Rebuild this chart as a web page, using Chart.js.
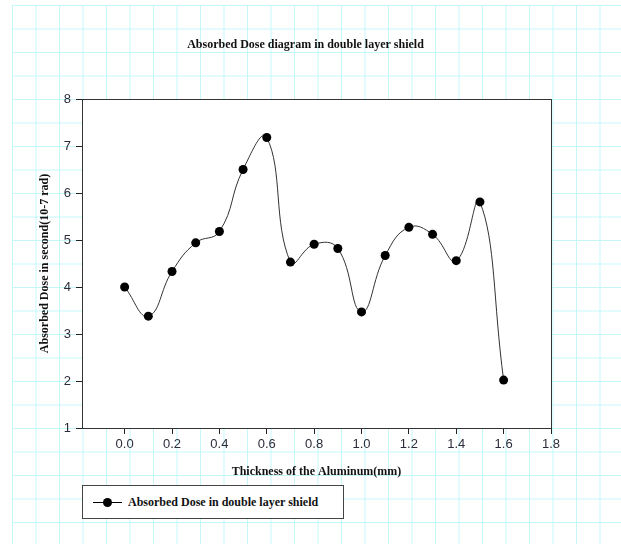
<!DOCTYPE html>
<html>
<head>
<meta charset="utf-8">
<script src="https://cdn.jsdelivr.net/npm/chart.js@4/dist/chart.umd.min.js"></script>
<style>
  html, body { margin: 0; padding: 0; background: #fff; }
  #wrap { position: relative; width: 621px; height: 544px; overflow: hidden; background: #fff; }
  #grid {
    position: absolute; left: 12px; top: 5px; right: 0; bottom: 0;
    background-image:
      linear-gradient(to right, #c4f6f8 1px, transparent 1px),
      linear-gradient(to bottom, #c4f6f8 1px, transparent 1px);
    background-size: 23.5px 23.5px;
    background-position: 0 0;
  }
  canvas { position: absolute; left: 0; top: 0; }
  #legend {
    position: absolute; left: 82px; top: 485px; width: 262px; height: 34px;
    background: #fff; border: 1px solid #444; box-sizing: border-box;
    font: bold 12px "Liberation Serif", serif; color: #111;
  }
  #legend .ln { position: absolute; left: 10px; top: 16px; width: 29px; height: 1px; background: #000; }
  #legend .dt { position: absolute; left: 20px; top: 12px; width: 9px; height: 9px; border-radius: 50%; background: #000; }
  #legend .tx { position: absolute; left: 45px; top: 9px; white-space: nowrap; }
</style>
</head>
<body>
<div id="wrap">
  <div id="grid"></div>
  <canvas id="c" width="621" height="544"></canvas>
  <div id="legend"><div class="ln"></div><div class="dt"></div><div class="tx">Absorbed Dose in double layer shield</div></div>
</div>
<script>
const thickness = [0.0, 0.1, 0.2, 0.3, 0.4, 0.5, 0.6, 0.7, 0.8, 0.9, 1.0, 1.1, 1.2, 1.3, 1.4, 1.5, 1.6];
const doseValues = [4.00, 3.38, 4.33, 4.94, 5.18, 6.50, 7.18, 4.53, 4.91, 4.82, 3.47, 4.67, 5.27, 5.12, 4.56, 5.81, 2.02];
const xTickValues = [0.0, 0.2, 0.4, 0.6, 0.8, 1.0, 1.2, 1.4, 1.6, 1.8];
const yTickValues = [1, 2, 3, 4, 5, 6, 7, 8];
const chartTitle = 'Absorbed Dose diagram in double layer shield';
const xTitle = 'Thickness of the Aluminum(mm)';
const yTitle = 'Absorbed Dose in second(10-7 rad)';
const seriesLabel = 'Absorbed Dose in double layer shield';

const points = thickness.map((x, i) => ({ x: x, y: doseValues[i] }));

const plotFrame = {
  id: 'plotFrame',
  beforeDraw(chart) {
    const a = chart.chartArea, ctx = chart.ctx;
    ctx.save();
    ctx.fillStyle = '#ffffff';
    ctx.fillRect(a.left, a.top, a.right - a.left, a.bottom - a.top);
    ctx.restore();
  },
  afterDraw(chart) {
    const a = chart.chartArea, ctx = chart.ctx;
    ctx.save();
    ctx.strokeStyle = '#333';
    ctx.lineWidth = 1;
    ctx.strokeRect(Math.round(a.left) + 0.5, Math.round(a.top) + 0.5, Math.round(a.right - a.left), Math.round(a.bottom - a.top));
    ctx.restore();
  }
};

const serif = "'Liberation Serif', 'Times New Roman', serif";
const sans = "'Liberation Sans', Arial, sans-serif";

new Chart(document.getElementById('c'), {
  type: 'line',
  data: {
    datasets: [{
      label: seriesLabel,
      data: points,
      borderColor: '#333',
      borderWidth: 1,
      backgroundColor: '#000',
      pointBackgroundColor: '#000',
      pointBorderColor: '#000',
      pointRadius: 4.5,
      pointBorderWidth: 0,
      tension: 0.45,
      fill: false
    }]
  },
  options: {
    responsive: false,
    animation: false,
    events: [],
    layout: { padding: { left: 0, right: 10, top: 0, bottom: 0 } },
    plugins: {
      legend: { display: false },
      tooltip: { enabled: false },
      title: {
        display: true,
        text: chartTitle,
        color: '#111',
        font: { family: serif, size: 12, weight: 'bold' },
        padding: { top: 38, bottom: 46.6 }
      }
    },
    scales: {
      x: {
        type: 'linear',
        min: -0.18,
        max: 1.8,
        afterBuildTicks(scale) { scale.ticks = xTickValues.map(v => ({ value: v })); },
        afterFit(scale) { scale.height = 116; },
        ticks: {
          color: '#2c2c3c',
          font: { family: sans, size: 13 },
          padding: 3,
          maxRotation: 0,
          autoSkip: false,
          callback: v => Number(v).toFixed(1)
        },
        grid: { drawOnChartArea: false, drawTicks: true, tickLength: 6, color: '#222' },
        border: { display: true, color: '#222', width: 1 },
        title: {
          display: true,
          text: xTitle,
          color: '#111',
          font: { family: serif, size: 12, weight: 'bold' },
          padding: { top: 0, bottom: 64.8 }
        }
      },
      y: {
        type: 'linear',
        position: 'left',
        min: 1,
        max: 8,
        afterBuildTicks(scale) { scale.ticks = yTickValues.map(v => ({ value: v })); },
        afterFit(scale) { scale.width = 82; },
        ticks: {
          color: '#2c2c3c',
          font: { family: sans, size: 13 },
          padding: 5,
          autoSkip: false,
          callback: v => String(v)
        },
        grid: { drawOnChartArea: false, drawTicks: true, tickLength: 6, color: '#222' },
        border: { display: true, color: '#222', width: 1 },
        title: {
          display: true,
          text: yTitle,
          color: '#111',
          font: { family: serif, size: 12, weight: 'bold' },
          padding: { top: 37.3, bottom: 0 }
        }
      },
      yRight: {
        type: 'linear',
        position: 'right',
        display: true,
        min: 1,
        max: 8,
        afterFit(scale) { scale.width = 60; },
        ticks: { display: false },
        grid: { display: false, drawOnChartArea: false, drawTicks: false },
        border: { display: false }
      }
    }
  },
  plugins: [plotFrame]
});
</script>
</body>
</html>
